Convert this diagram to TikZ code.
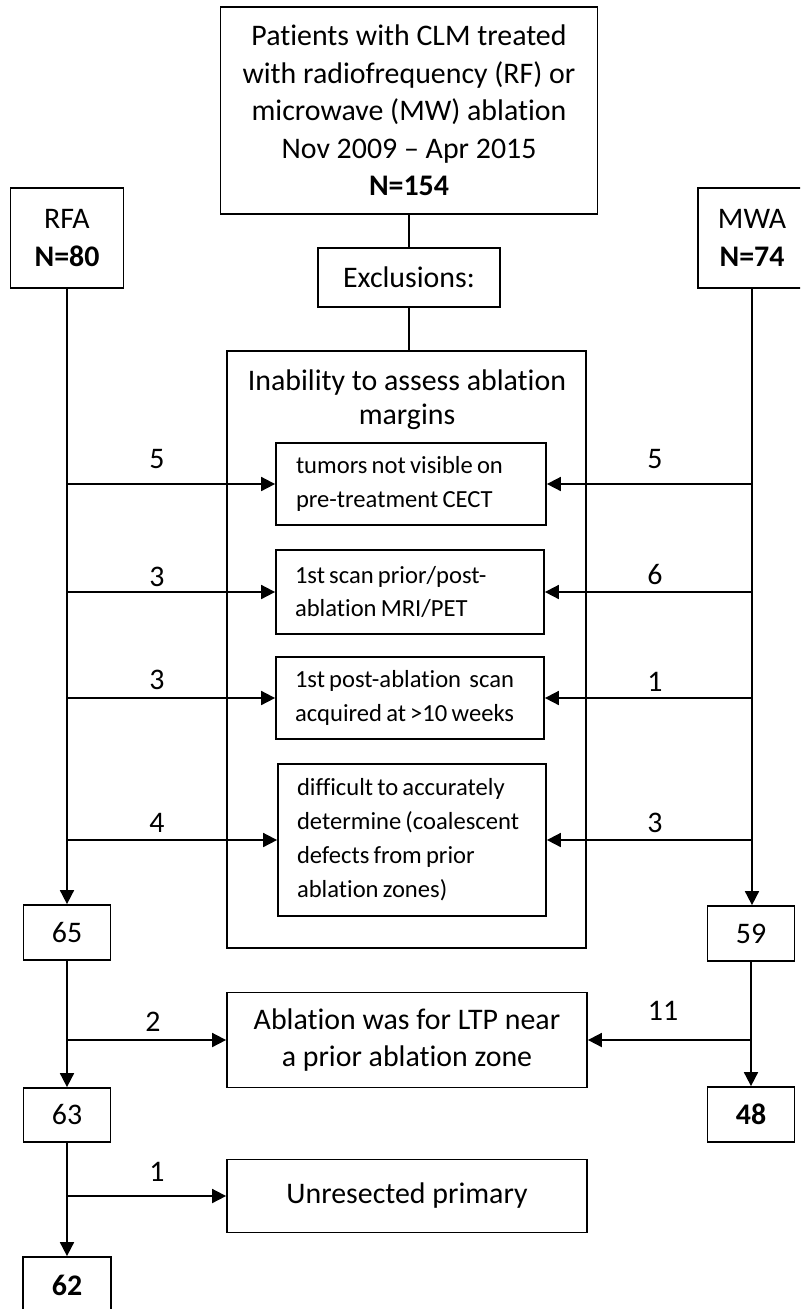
\documentclass[tikz,border=0pt]{standalone}
\usepackage{fontspec}
\setmainfont{Carlito}[Ligatures={TeX,NoCommon}]
\usetikzlibrary{arrows.meta}
\newcommand{\bigtxt}{\fontsize{17}{21.3}\selectfont}
\newcommand{\smalltxt}{\fontsize{14}{19.3}\selectfont\spaceskip=0.17em}
\tikzset{
  box/.style={draw, line width=1pt, inner sep=0pt, align=center, font=\bigtxt},
  subbox/.style={draw, line width=1pt, inner sep=0pt, text width=46mm, align=flush left, font=\smalltxt},
  numlbl/.style={font=\bigtxt},
  flow/.style={line width=1pt, -{Triangle[length=2.8mm,width=2.8mm]}},
  joinline/.style={line width=1pt},
}
\begin{document}
\begin{tikzpicture}[x=0.2mm, y=-0.2mm]
\clip (0,0) rectangle (800,1309);
\node[box, minimum width=75.4mm, minimum height=41.4mm] (total) at (409,110.5) {Patients with CLM treated\\with radiofrequency (RF) or\\microwave (MW) ablation\\Nov 2009 – Apr 2015\\\textbf{N=154}};
\node[box, minimum width=22.6mm, minimum height=20mm] (rfa) at (67,238) {RFA\\\textbf{N=80}};
\node[box, minimum width=21.6mm, minimum height=20mm] (mwa) at (752,238) {MWA\\\textbf{N=74}};
\node[box, minimum width=36.4mm, minimum height=11.8mm] (excl) at (409,277.5) {Exclusions:};
\node[draw, line width=1pt, minimum width=71.8mm, minimum height=119.4mm] (margins) at (406.5,649.5) {};
\node[align=center, font=\fontsize{17}{19.5}\selectfont] (mtitle) at (407,400) {Inability to assess ablation\\margins};
\node[subbox, minimum width=54mm, minimum height=16.4mm] (sub1) at (411,484) {tumors not visible on\\pre-treatment CECT};
\node[subbox, minimum width=53.6mm, minimum height=16.8mm] (sub2) at (410,592) {1st scan prior/post-\\ablation MRI/PET};
\node[subbox, minimum width=53.6mm, minimum height=16.4mm] (sub3) at (410,698) {1st post-ablation\ \ scan\\acquired at >10 weeks};
\node[subbox, minimum width=53.6mm, minimum height=30.4mm] (sub4) at (412,840) {difficult to accurately\\determine (coalescent\\defects from prior\\ablation zones)};
\node[box, minimum width=17.4mm, minimum height=11mm] (n65) at (67,932.5) {65};
\node[box, minimum width=17.4mm, minimum height=11mm] (n59) at (751,933.5) {59};
\node[box, minimum width=72mm, minimum height=19mm] (ltp) at (407,1040) {Ablation was for LTP near\\a prior ablation zone};
\node[box, minimum width=17.4mm, minimum height=10.8mm] (n63) at (67,1115) {63};
\node[box, minimum width=17.4mm, minimum height=11mm] (n48) at (751,1114.5) {\textbf{48}};
\node[box, minimum width=72mm, minimum height=14.6mm] (unres) at (407,1196) {Unresected primary};
\node[box, minimum width=17.6mm, minimum height=11.2mm] (n62) at (67,1285) {\textbf{62}};
\draw[joinline] (total.south) -- (total.south |- excl.north);
\draw[joinline] (excl.south) -- (excl.south |- margins.north);
\draw[flow] (rfa.south) -- (rfa.south |- n65.north);
\draw[flow] (mwa.south) -- (mwa.south |- n59.north);
\draw[flow] (rfa.south |- sub1.west) -- (sub1.west);
\draw[flow] (rfa.south |- sub2.west) -- (sub2.west);
\draw[flow] (rfa.south |- sub3.west) -- (sub3.west);
\draw[flow] (rfa.south |- sub4.west) -- (sub4.west);
\draw[flow] (mwa.south |- sub1.east) -- (sub1.east);
\draw[flow] (mwa.south |- sub2.east) -- (sub2.east);
\draw[flow] (mwa.south |- sub3.east) -- (sub3.east);
\draw[flow] (mwa.south |- sub4.east) -- (sub4.east);
\draw[flow] (n65.south) -- (n63.north);
\draw[flow] (n65.south |- ltp.west) -- (ltp.west);
\draw[flow] (n59.south) -- (n48.north);
\draw[flow] (n59.south |- ltp.east) -- (ltp.east);
\draw[flow] (n63.south) -- (n62.north);
\draw[flow] (n63.south |- unres.west) -- (unres.west);
\node[numlbl] (lA) at (157,459) {5};
\node[numlbl] (lB) at (157,577) {3};
\node[numlbl] (lC) at (157,680) {3};
\node[numlbl] (lD) at (157,823) {4};
\node[numlbl] (rA) at (655,459) {5};
\node[numlbl] (rB) at (655,575) {6};
\node[numlbl] (rC) at (655,682) {1};
\node[numlbl] (rD) at (655,823) {3};
\node[numlbl] (lE) at (153,1022) {2};
\node[numlbl] (rE) at (663,1011) {11};
\node[numlbl] (lF) at (157,1172) {1};
\end{tikzpicture}
\end{document}
